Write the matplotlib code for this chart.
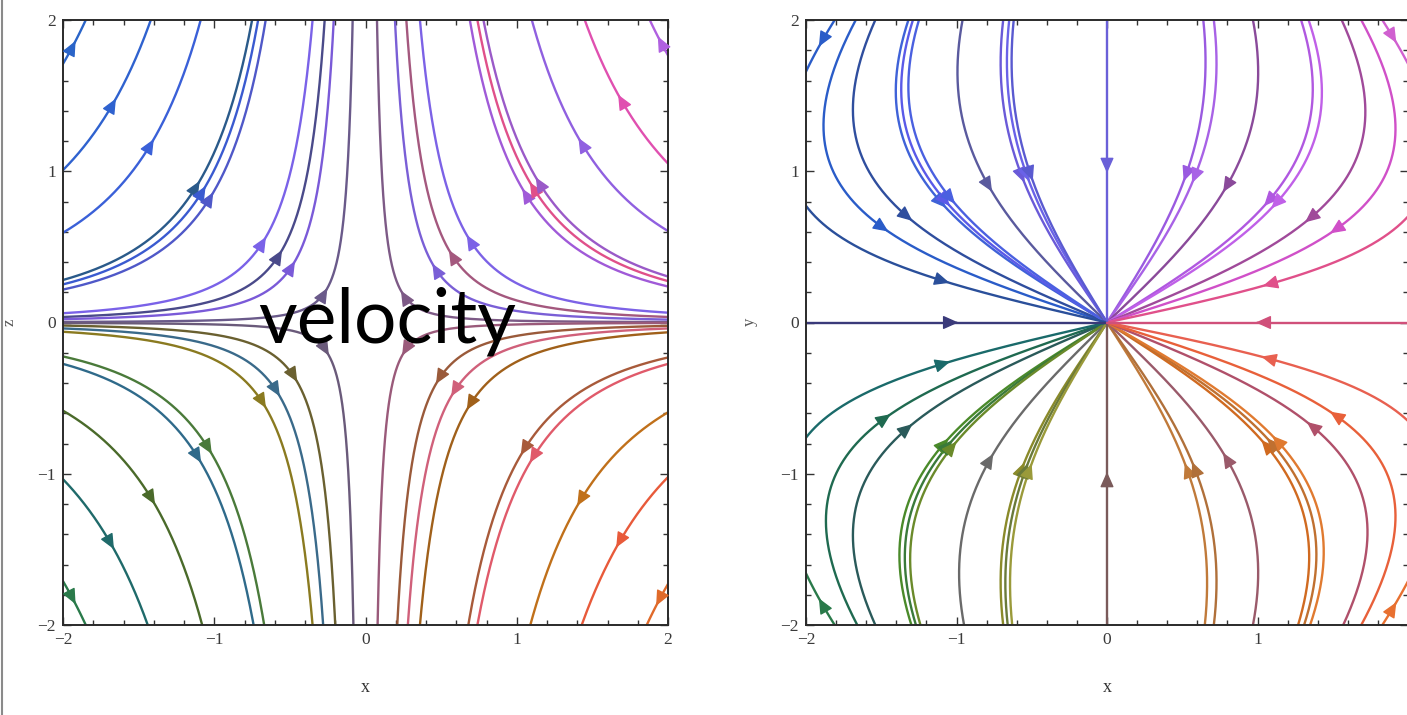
import numpy as np
import matplotlib
matplotlib.use("Agg")
import matplotlib.pyplot as plt
from matplotlib.lines import Line2D
from matplotlib.ticker import MultipleLocator

# ---------------------------------------------------------------------------
# Streamline seeds and colours
# ---------------------------------------------------------------------------
# x–z plane: streamlines named by where they cross the top (z = 2) edge
xz_top_x = [-1.85, -1.42, -1.09, -0.75, -0.71, -0.66, -0.35, -0.27, -0.21, -0.085,
            0.076, 0.195, 0.27, 0.36, 0.69, 0.74, 0.78, 1.10, 1.45, 1.88]
xz_top_colors = ["#2a64c8", "#2f62cf", "#3a60d8", "#2a5a8a", "#3a5ad0", "#4f58c8",
                 "#7a62e8", "#4a4a8a", "#7a5ad8", "#6a5a8a",
                 "#7d5a86", "#7a5fd6", "#a4587e", "#7c62e6", "#a05ad8", "#e0508a",
                 "#9a5ac8", "#9060e0", "#e050b0", "#b060e0"]

# x–z plane: streamlines named by where they cross the bottom (z = -2) edge
xz_bottom_x = [-1.85, -1.44, -1.08, -0.74, -0.67, -0.35, -0.28, -0.20, -0.08,
               0.08, 0.21, 0.28, 0.36, 0.68, 0.74, 1.09, 1.43, 1.86]
xz_bottom_colors = ["#2a7a4a", "#1f6a6a", "#4a6a2a", "#2f6a8a", "#4a7a3a", "#8a7a20",
                    "#3a6a8a", "#6a6030", "#6a5a7a",
                    "#9a5a7a", "#9a5a3a", "#d0607a", "#a0601a", "#a85a3a", "#e05a6a",
                    "#c0701a", "#e85a3a", "#e06a2a"]

# x–y plane: streamlines crossing the top (y = 2) edge
xy_top_x = [-1.81, -1.67, -1.54, -1.32, -1.29, -1.25, -0.96, -0.69, -0.65, -0.62,
            0.64, 0.71, 0.97, 1.29, 1.34, 1.56, 1.69, 1.83]
xy_top_colors = ["#2a5cc8", "#2a5cc8", "#2f4e9e", "#3f62d8", "#5a5ae8", "#4a60e0",
                 "#5a5a9e", "#6a5ad8", "#6a62e8", "#5a5ad0",
                 "#9a5ae0", "#a862e6", "#8a4a9a", "#b058e0", "#c060e8", "#a04a9a",
                 "#d050c8", "#d060d0"]

# x–y plane: streamlines crossing the bottom (y = -2) edge
xy_bottom_x = [-1.81, -1.66, -1.54, -1.30, -1.27, -1.24, -0.95, -0.69, -0.66, -0.63,
               0.65, 0.71, 0.97, 1.27, 1.31, 1.35, 1.57, 1.69, 1.83]
xy_bottom_colors = ["#2a7a4a", "#1f6a50", "#2a5a5a", "#4a8a2a", "#3a7a3a", "#6a8a2a",
                    "#6a6a6a", "#8a8a2a", "#6a7a3a", "#9a9a3a",
                    "#c07a3a", "#b0703a", "#9a5a6a", "#d06a20", "#c07030", "#e07a30",
                    "#b0506a", "#e8603a", "#e87030"]

# x–y plane: streamlines entering through the side edges (x, y)
xy_side_x = [-1.999, -1.999, 1.999, 1.999]
xy_side_y = [0.77, -0.76, 0.70, -0.65]
xy_side_colors = ["#2a4f9a", "#1a6a6a", "#e0508a", "#e86050"]

# x–y plane: streamlines along the coordinate axes (x, y)
xy_axis_x = [0.0, 0.0, -1.5, 1.5]
xy_axis_y = [1.5, -1.5, 0.0, 0.0]
xy_axis_colors = ["#6a60d8", "#7a5a5a", "#3a3a7a", "#d0507a"]

tick_values = [-2, -1, 0, 1, 2]
tick_labels = ["\u22122", "\u22121", "0", "1", "2"]
# the right panel runs off the slide, so its last x label is not shown
tick_labels_clipped = ["\u22122", "\u22121", "0", "1", ""]


# ---------------------------------------------------------------------------
# Velocity fields
# ---------------------------------------------------------------------------
def field_xz(x, z):
    # axisymmetric stagnation-point flow in the x–z plane
    return -x, 2.0 * z


def field_xy(x, y):
    return -x * (1.0 - (y ** 2 + 0.41 * x ** 2) / 3.15), -y


def trace(field, x0, y0, lim=2.0, ds=0.004, nmax=3000):
    """Trace a streamline through (x0, y0) by arc length, in both directions."""
    def unit(x, y, sgn):
        u, v = field(x, y)
        s = np.hypot(u, v)
        if s < 1e-12:
            return 0.0, 0.0
        return sgn * u / s, sgn * v / s

    def run(sgn):
        pts = [(x0, y0)]
        x, y = x0, y0
        for _ in range(nmax):
            k1 = unit(x, y, sgn)
            k2 = unit(x + 0.5 * ds * k1[0], y + 0.5 * ds * k1[1], sgn)
            k3 = unit(x + 0.5 * ds * k2[0], y + 0.5 * ds * k2[1], sgn)
            k4 = unit(x + ds * k3[0], y + ds * k3[1], sgn)
            x += ds * (k1[0] + 2 * k2[0] + 2 * k3[0] + k4[0]) / 6
            y += ds * (k1[1] + 2 * k2[1] + 2 * k3[1] + k4[1]) / 6
            if np.hypot(x, y) < 1.5 * ds:
                pts.append((0.0, 0.0))
                break
            pts.append((x, y))
            if abs(x) > lim or abs(y) > lim:
                break
        return pts

    back = run(-1.0)[::-1]
    fwd = run(1.0)
    return np.array(back + fwd[1:])


def draw_stream(ax, field, x0, y0, color):
    p = trace(field, x0, y0)
    ax.plot(p[:, 0], p[:, 1], color=color, lw=1.7, solid_capstyle="round",
            zorder=2)
    inside = np.where((np.abs(p[:, 0]) <= 2) & (np.abs(p[:, 1]) <= 2))[0]
    if len(inside) < 10:
        return
    q = p[inside[0]:inside[-1] + 1]
    s = np.concatenate([[0], np.cumsum(np.hypot(np.diff(q[:, 0]), np.diff(q[:, 1])))])
    i = int(np.searchsorted(s, 0.5 * s[-1]))
    i = min(max(i, 2), len(q) - 3)
    ax.annotate("", xy=q[i + 2], xytext=q[i - 2],
                arrowprops=dict(arrowstyle="-|>,head_length=0.85,head_width=0.38",
                                color=color, lw=1.0, shrinkA=0, shrinkB=0,
                                mutation_scale=11),
                zorder=3)


def style_axes(ax, xlabels):
    ax.set_xlim(-2, 2)
    ax.set_ylim(-2, 2)
    ax.set_xticks(tick_values)
    ax.set_xticklabels(xlabels)
    ax.set_yticks(tick_values)
    ax.set_yticklabels(tick_labels)
    ax.xaxis.set_minor_locator(MultipleLocator(0.2))
    ax.yaxis.set_minor_locator(MultipleLocator(0.2))
    ax.tick_params(which="both", direction="in", top=True, right=True,
                   colors="#333333", labelcolor="#3a3a3a", width=1.0,
                   labelsize=12.5)
    ax.tick_params(which="major", length=6, pad=5)
    ax.tick_params(which="minor", length=3.5)
    for lab in ax.get_xticklabels() + ax.get_yticklabels():
        lab.set_family("Liberation Serif")
    for sp in ax.spines.values():
        sp.set_color("#2a2a2a")
        sp.set_linewidth(1.4)
    ax.set_xlabel("x", family="Liberation Serif", fontsize=13, color="#333333",
                  labelpad=22)


W, H = 1407, 715
fig = plt.figure(figsize=(W / 100, H / 100), dpi=100)

ax1 = fig.add_axes([63 / W, (H - 625) / H, 605 / W, 605 / H])
ax2 = fig.add_axes([806 / W, (H - 625) / H, 602 / W, 605 / H])

for x0, c in zip(xz_top_x, xz_top_colors):
    draw_stream(ax1, field_xz, x0, 1.999, c)
for x0, c in zip(xz_bottom_x, xz_bottom_colors):
    draw_stream(ax1, field_xz, x0, -1.999, c)

for x0, c in zip(xy_top_x, xy_top_colors):
    draw_stream(ax2, field_xy, x0, 1.999, c)
for x0, c in zip(xy_bottom_x, xy_bottom_colors):
    draw_stream(ax2, field_xy, x0, -1.999, c)
for x0, y0, c in zip(xy_side_x, xy_side_y, xy_side_colors):
    draw_stream(ax2, field_xy, x0, y0, c)
for x0, y0, c in zip(xy_axis_x, xy_axis_y, xy_axis_colors):
    draw_stream(ax2, field_xy, x0, y0, c)

style_axes(ax1, tick_labels)
style_axes(ax2, tick_labels_clipped)

fig.text(10 / W, 1 - 322 / H, "z", family="Liberation Serif", fontsize=12,
         color="#555555", rotation=90, ha="center", va="center")
fig.text(750 / W, 1 - 322 / H, "y", family="Liberation Serif", fontsize=12,
         color="#555555", rotation=90, ha="center", va="center")

fig.text(258 / W, 1 - 343 / H, "velocity", family="Lato", fontsize=54,
         color="black", ha="left", va="baseline", zorder=10)

fig.add_artist(Line2D([2 / W, 2 / W], [0, 1], color="#8a8a8a", lw=1.5))

fig.savefig("out.png", dpi=100)
